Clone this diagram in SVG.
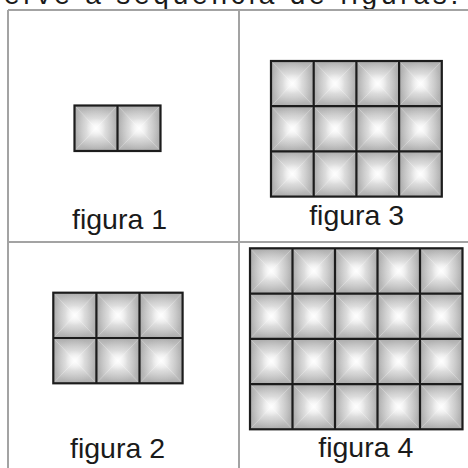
<svg xmlns="http://www.w3.org/2000/svg" xmlns:xlink="http://www.w3.org/1999/xlink" width="468" height="468" viewBox="0 0 468 468">
  <style>
    .frame { stroke: #a3a3a3; stroke-width: 2; fill: none; }
    .grid { stroke: #1c1c1c; stroke-width: 2.2; fill: none; }
    .lbl { font-family: "Liberation Sans", Arial, sans-serif; font-size: 28.5px; fill: #1a1a1a; text-anchor: middle; }
    .title { font-family: "Liberation Sans", Arial, sans-serif; font-size: 28px; fill: #1a1a1a; letter-spacing: 3.8px; }
  </style>
  <defs>
    <linearGradient id="gT" x1="0" y1="0" x2="0" y2="1">
      <stop offset="0" stop-color="#ababab"/>
      <stop offset="0.55" stop-color="#d0d0d0"/>
      <stop offset="1" stop-color="#f6f6f6"/>
    </linearGradient>
    <linearGradient id="gB" x1="0" y1="1" x2="0" y2="0">
      <stop offset="0" stop-color="#ababab"/>
      <stop offset="0.55" stop-color="#d0d0d0"/>
      <stop offset="1" stop-color="#f6f6f6"/>
    </linearGradient>
    <linearGradient id="gL" x1="0" y1="0" x2="1" y2="0">
      <stop offset="0" stop-color="#ababab"/>
      <stop offset="0.55" stop-color="#d0d0d0"/>
      <stop offset="1" stop-color="#f6f6f6"/>
    </linearGradient>
    <linearGradient id="gR" x1="1" y1="0" x2="0" y2="0">
      <stop offset="0" stop-color="#ababab"/>
      <stop offset="0.55" stop-color="#d0d0d0"/>
      <stop offset="1" stop-color="#f6f6f6"/>
    </linearGradient>
    <radialGradient id="gC" cx="0.5" cy="0.5" r="0.5">
      <stop offset="0" stop-color="#ffffff" stop-opacity="0.85"/>
      <stop offset="0.45" stop-color="#ffffff" stop-opacity="0.25"/>
      <stop offset="1" stop-color="#ffffff" stop-opacity="0"/>
    </radialGradient>
    <symbol id="tile" viewBox="0 0 100 100" preserveAspectRatio="none">
      <polygon points="0,0 100,0 50,50" fill="url(#gT)"/>
      <polygon points="0,100 100,100 50,50" fill="url(#gB)"/>
      <polygon points="0,0 0,100 50,50" fill="url(#gL)"/>
      <polygon points="100,0 100,100 50,50" fill="url(#gR)"/>
      <rect x="0" y="0" width="100" height="100" fill="url(#gC)"/>
    </symbol>
  </defs>
  <rect width="468" height="468" fill="#ffffff"/>
  <text class="title" x="4" y="4">erve a sequência de figuras.</text>

  <g id="frame">
    <line class="frame" x1="8" y1="10" x2="8" y2="468"/>
    <line class="frame" x1="8" y1="10" x2="468" y2="10"/>
    <line class="frame" x1="239" y1="10" x2="239" y2="468"/>
    <line class="frame" x1="8" y1="242" x2="468" y2="242"/>
  </g>

  <g id="figura1">
    <use xlink:href="#tile" x="74.5" y="105.5" width="43" height="45.5"/>
    <use xlink:href="#tile" x="117.5" y="105.5" width="43" height="45.5"/>
    <rect class="grid" x="74.5" y="105.5" width="86" height="45.5"/>
    <line class="grid" x1="117.5" y1="105.5" x2="117.5" y2="151"/>
    <text class="lbl" x="119.5" y="229">figura 1</text>
  </g>

  <g id="figura3">
    <use xlink:href="#tile" x="271" y="61" width="42.7" height="45.2"/>
    <use xlink:href="#tile" x="313.7" y="61" width="42.7" height="45.2"/>
    <use xlink:href="#tile" x="356.4" y="61" width="42.7" height="45.2"/>
    <use xlink:href="#tile" x="399.1" y="61" width="42.7" height="45.2"/>
    <use xlink:href="#tile" x="271" y="106.2" width="42.7" height="45.2"/>
    <use xlink:href="#tile" x="313.7" y="106.2" width="42.7" height="45.2"/>
    <use xlink:href="#tile" x="356.4" y="106.2" width="42.7" height="45.2"/>
    <use xlink:href="#tile" x="399.1" y="106.2" width="42.7" height="45.2"/>
    <use xlink:href="#tile" x="271" y="151.4" width="42.7" height="45.2"/>
    <use xlink:href="#tile" x="313.7" y="151.4" width="42.7" height="45.2"/>
    <use xlink:href="#tile" x="356.4" y="151.4" width="42.7" height="45.2"/>
    <use xlink:href="#tile" x="399.1" y="151.4" width="42.7" height="45.2"/>
    <rect class="grid" x="271" y="61" width="170.8" height="135.6"/>
    <line class="grid" x1="313.7" y1="61" x2="313.7" y2="196.6"/>
    <line class="grid" x1="356.4" y1="61" x2="356.4" y2="196.6"/>
    <line class="grid" x1="399.1" y1="61" x2="399.1" y2="196.6"/>
    <line class="grid" x1="271" y1="106.2" x2="441.8" y2="106.2"/>
    <line class="grid" x1="271" y1="151.4" x2="441.8" y2="151.4"/>
    <text class="lbl" x="356.7" y="224.5">figura 3</text>
  </g>

  <g id="figura2">
    <use xlink:href="#tile" x="53.3" y="292.7" width="43.1" height="45.3"/>
    <use xlink:href="#tile" x="96.4" y="292.7" width="43.1" height="45.3"/>
    <use xlink:href="#tile" x="139.5" y="292.7" width="43.1" height="45.3"/>
    <use xlink:href="#tile" x="53.3" y="338" width="43.1" height="45.3"/>
    <use xlink:href="#tile" x="96.4" y="338" width="43.1" height="45.3"/>
    <use xlink:href="#tile" x="139.5" y="338" width="43.1" height="45.3"/>
    <rect class="grid" x="53.3" y="292.7" width="129.3" height="90.6"/>
    <line class="grid" x1="96.4" y1="292.7" x2="96.4" y2="383.3"/>
    <line class="grid" x1="139.5" y1="292.7" x2="139.5" y2="383.3"/>
    <line class="grid" x1="53.3" y1="338" x2="182.6" y2="338"/>
    <text class="lbl" x="117.5" y="458.3">figura 2</text>
  </g>

  <g id="figura4">
    <use xlink:href="#tile" x="250" y="248.3" width="42.5" height="45.25"/>
    <use xlink:href="#tile" x="292.5" y="248.3" width="42.5" height="45.25"/>
    <use xlink:href="#tile" x="335" y="248.3" width="42.5" height="45.25"/>
    <use xlink:href="#tile" x="377.5" y="248.3" width="42.5" height="45.25"/>
    <use xlink:href="#tile" x="420" y="248.3" width="42.5" height="45.25"/>
    <use xlink:href="#tile" x="250" y="293.55" width="42.5" height="45.25"/>
    <use xlink:href="#tile" x="292.5" y="293.55" width="42.5" height="45.25"/>
    <use xlink:href="#tile" x="335" y="293.55" width="42.5" height="45.25"/>
    <use xlink:href="#tile" x="377.5" y="293.55" width="42.5" height="45.25"/>
    <use xlink:href="#tile" x="420" y="293.55" width="42.5" height="45.25"/>
    <use xlink:href="#tile" x="250" y="338.8" width="42.5" height="45.25"/>
    <use xlink:href="#tile" x="292.5" y="338.8" width="42.5" height="45.25"/>
    <use xlink:href="#tile" x="335" y="338.8" width="42.5" height="45.25"/>
    <use xlink:href="#tile" x="377.5" y="338.8" width="42.5" height="45.25"/>
    <use xlink:href="#tile" x="420" y="338.8" width="42.5" height="45.25"/>
    <use xlink:href="#tile" x="250" y="384.05" width="42.5" height="45.25"/>
    <use xlink:href="#tile" x="292.5" y="384.05" width="42.5" height="45.25"/>
    <use xlink:href="#tile" x="335" y="384.05" width="42.5" height="45.25"/>
    <use xlink:href="#tile" x="377.5" y="384.05" width="42.5" height="45.25"/>
    <use xlink:href="#tile" x="420" y="384.05" width="42.5" height="45.25"/>
    <rect class="grid" x="250" y="248.3" width="212.5" height="181"/>
    <line class="grid" x1="292.5" y1="248.3" x2="292.5" y2="429.3"/>
    <line class="grid" x1="335" y1="248.3" x2="335" y2="429.3"/>
    <line class="grid" x1="377.5" y1="248.3" x2="377.5" y2="429.3"/>
    <line class="grid" x1="420" y1="248.3" x2="420" y2="429.3"/>
    <line class="grid" x1="250" y1="293.55" x2="462.5" y2="293.55"/>
    <line class="grid" x1="250" y1="338.8" x2="462.5" y2="338.8"/>
    <line class="grid" x1="250" y1="384.05" x2="462.5" y2="384.05"/>
    <text class="lbl" x="365.8" y="456.5">figura 4</text>
  </g>
</svg>
